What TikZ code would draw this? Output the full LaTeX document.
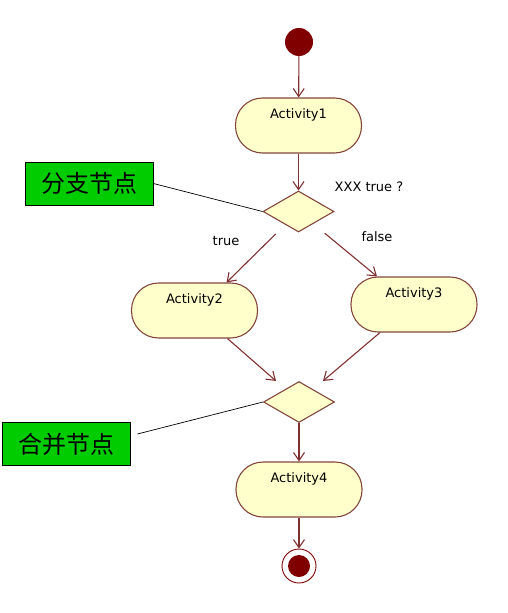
\documentclass[tikz,border=0pt]{standalone}
\usepackage{fontspec}
\newfontfamily\uifont{DejaVu Sans}
\newfontfamily\cjk{Noto Sans CJK SC}
\usetikzlibrary{%
	arrows.meta,%
	calc,%
	shapes.geometric,%
	shapes.misc
}
\definecolor{flowred}{RGB}{128,48,48}
\definecolor{nodeedge}{RGB}{130,70,60}
\definecolor{nodefill}{RGB}{255,255,204}
\definecolor{dotred}{RGB}{128,0,0}
\definecolor{notegreen}{RGB}{0,204,0}
\tikzset{
	activity/.style={draw=nodeedge, fill=nodefill, line width=1.1pt, rounded corners=27pt, minimum width=126pt, minimum height=55pt, text height=9pt, text depth=24pt, font=\uifont\fontsize{13}{15}\selectfont},
	branch/.style={diamond, draw=nodeedge, fill=nodefill, line width=1.1pt, aspect=1.75, minimum width=71pt, minimum height=41pt, inner sep=0pt},
	startdot/.style={circle, fill=dotred, minimum size=28pt, inner sep=0pt},
	endring/.style={circle, draw=dotred, fill=white, line width=0.9pt, minimum size=34pt, inner sep=0pt},
	enddot/.style={circle, fill=dotred, minimum size=22pt, inner sep=0pt},
	guard/.style={font=\uifont\fontsize{13}{15}\selectfont},
	note/.style={draw=black, fill=notegreen, line width=0.9pt, minimum width=128pt, minimum height=43pt, font=\cjk\fontsize{24}{27}\selectfont},
	flow/.style={draw=flowred, line width=1.1pt, -{Straight Barb[length=8pt,width=11pt]}},
	noteline/.style={draw=black, line width=0.7pt}
}

\begin{document}
\begin{tikzpicture}[x=1pt,y=-1pt]
	\useasboundingbox (0,0) rectangle (507,613);

	% Draw the activities and the two decision points
	\node[startdot] (start) at (299,42) {};
	\node[activity] (act1) at (298.5,125.5) {Activity1};
	\node[branch] (split) at (298.5,211.5) {};
	\node[activity] (act2) at (194.5,310.5) {Activity2};
	\node[activity] (act3) at (414,304.5) {Activity3};
	\node[branch] (merge) at (299,402) {};
	\node[activity] (act4) at (299,489.5) {Activity4};
	\node[endring] (finish) at (299,566) {};
	\node[enddot] (finishdot) at (finish) {};

	% Draw the guards
	\node[guard] (cond) at (369,187) {XXX true ?};
	\node[guard] (yes) at (226,241) {true};
	\node[guard] (no) at (377,237) {false};

	% Draw the flows
	\draw[flow] (start) -- (act1);
	\draw[flow] (act1) -- (split);
	\draw[flow, shorten <=32pt] (split.center) -- ([xshift=32pt]act2.north);
	\draw[flow, shorten <=34pt] (split.center) -- ([xshift=-37pt]act3.north);
	\draw[flow] ([xshift=33pt]act2.south) -- ([xshift=-23pt]merge.north);
	\draw[flow] ([xshift=-34pt]act3.south) -- ([xshift=24pt]merge.north);
	\draw[flow] (merge) -- (act4);
	\draw[flow] (act4) -- (finish);

	% Draw the notes and point them at the diamonds
	\node[note] (splitnote) at (89,183.5) {分支节点};
	\node[note] (mergenote) at (66,444) {合并节点};
	\draw[noteline] (splitnote.east) -- (split.west);
	\draw[noteline] ([xshift=7pt,yshift=10pt]mergenote.east) -- (merge.west);
\end{tikzpicture}
\end{document}
